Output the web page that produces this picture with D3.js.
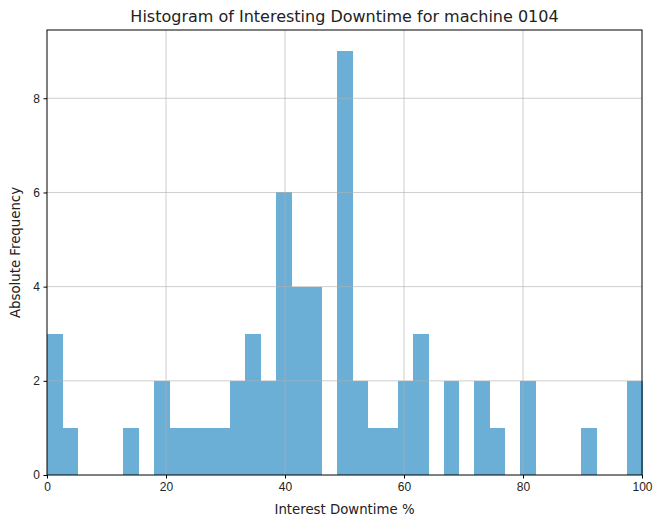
<!DOCTYPE html>
<html>
<head>
<meta charset="utf-8">
<script src="https://cdn.jsdelivr.net/npm/d3@7"></script>
<style>
  body { margin: 0; background: #fff; }
  svg { font-family: "DejaVu Sans", sans-serif; }
</style>
</head>
<body>
<svg></svg>
<script>
// histogram counts, 39 equal bins over [0, 100]
const binRange = [0, 100];
const binCounts = [3, 1, 0, 0, 0, 1, 0, 2, 1, 1, 1, 1, 2, 3, 2, 6, 4, 4, 0, 9,
                   2, 1, 1, 2, 3, 0, 2, 0, 2, 1, 0, 2, 0, 0, 0, 1, 0, 0, 2];
const xTicks = [0, 20, 40, 60, 80, 100];
const yTicks = [0, 2, 4, 6, 8];

let svgWidth = 654;
let svgHeight = 519;
let margin = {left: 47, right: 12, top: 30, bottom: 44};

let svg = d3.select('svg')
    .attr('width', svgWidth)
    .attr('height', svgHeight);

let x = d3.scaleLinear()
    .domain(binRange)
    .range([margin.left, svgWidth - margin.right]);

let y = d3.scaleLinear()
    .domain([0, d3.max(binCounts) * 1.05])
    .range([svgHeight - margin.bottom, margin.top]);

let step = (binRange[1] - binRange[0]) / binCounts.length;
let bins = binCounts.map((c, i) => ({x0: binRange[0] + i * step, x1: binRange[0] + (i + 1) * step, count: c}));

// bars (crisp edges so neighbouring bins don't show seams)
svg.append('g').attr('shape-rendering', 'crispEdges')
    .selectAll('rect')
    .data(bins.filter(d => d.count > 0)).enter().append('rect')
    .attr('x', d => x(d.x0))
    .attr('width', d => x(d.x1) - x(d.x0) + 0.5)
    .attr('y', d => y(d.count))
    .attr('height', d => y(0) - y(d.count))
    .attr('fill', '#6baed6');

// grid on top of the bars
let grid = svg.append('g').attr('stroke', '#b0b0b0').attr('stroke-width', 0.8).attr('stroke-opacity', 0.8);
grid.selectAll('.gx').data(xTicks.slice(1, -1)).enter().append('line')
    .attr('x1', d => x(d)).attr('x2', d => x(d))
    .attr('y1', y.range()[0]).attr('y2', y.range()[1]);
grid.selectAll('.gy').data(yTicks.slice(1)).enter().append('line')
    .attr('x1', x.range()[0]).attr('x2', x.range()[1])
    .attr('y1', d => y(d)).attr('y2', d => y(d));

// axes
let axsBottom = d3.axisBottom(x).tickValues(xTicks).tickSize(3.5).tickPadding(3.5).tickFormat(d3.format('d'));
svg.append('g').call(axsBottom)
    .attr('transform', 'translate(0,' + (svgHeight - margin.bottom) + ')')
    .call(g => g.select('.domain').remove());
let axsLeft = d3.axisLeft(y).tickValues(yTicks).tickSize(3.5).tickPadding(3.5);
svg.append('g').call(axsLeft)
    .attr('transform', 'translate(' + margin.left + ',0)')
    .call(g => g.select('.domain').remove());
svg.selectAll('.tick text').attr('font-size', 12).attr('fill', '#222');

// frame
svg.append('rect')
    .attr('x', x.range()[0]).attr('y', y.range()[1])
    .attr('width', x.range()[1] - x.range()[0])
    .attr('height', y.range()[0] - y.range()[1])
    .attr('fill', 'none').attr('stroke', '#000').attr('stroke-width', 1);

// labels
svg.append('text')
    .attr('x', (x.range()[0] + x.range()[1]) / 2).attr('y', 22)
    .attr('text-anchor', 'middle').attr('font-size', 16).attr('fill', '#222')
    .text('Histogram of Interesting Downtime for machine 0104');
svg.append('text')
    .attr('x', (x.range()[0] + x.range()[1]) / 2).attr('y', 514)
    .attr('text-anchor', 'middle').attr('font-size', 13.3).attr('fill', '#222')
    .text('Interest Downtime %');
svg.append('text')
    .attr('transform', 'translate(20,' + ((y.range()[0] + y.range()[1]) / 2) + ') rotate(-90)')
    .attr('text-anchor', 'middle').attr('font-size', 13.3).attr('fill', '#222')
    .text('Absolute Frequency');
</script>
</body>
</html>
